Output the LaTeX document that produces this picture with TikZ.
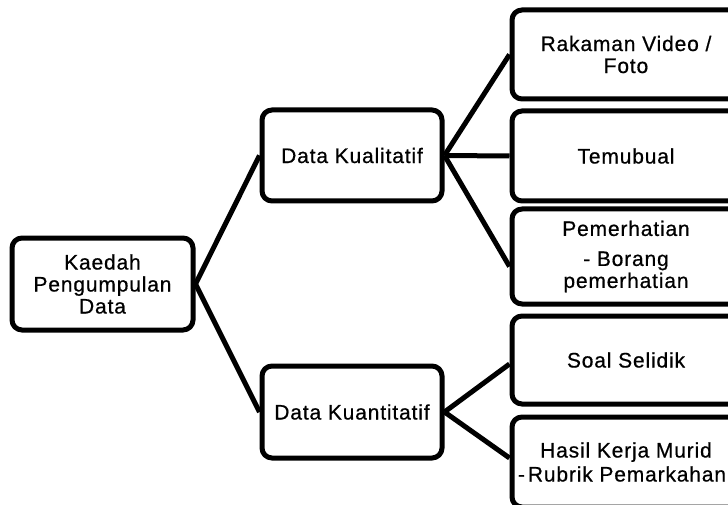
\documentclass[tikz,border=0pt]{standalone}
\usepackage{fontspec}
\setmainfont{Liberation Sans}[LetterSpace=4,FakeBold=0.6]
\begin{document}
\begin{tikzpicture}[x=1pt,y=-1pt,
  box/.style={draw=black, line width=5pt, rounded corners=10pt, fill=white,
    inner sep=0pt, align=center, font=\fontsize{21}{22}\selectfont},
  conn/.style={draw=black, line width=5pt}]
\useasboundingbox (0,0) rectangle (728,505);
\clip (0,0) rectangle (728,505);
\fill[white] (0,0) rectangle (728,505);
% nodes
\node[box, minimum width=181pt, minimum height=92pt] (K) at (102.5,284) {Kaedah\\Pengumpulan\\Data};
\node[box, minimum width=180pt, minimum height=91pt] (QL) at (352,155.5) {Data Kualitatif};
\node[box, minimum width=180pt, minimum height=92pt] (QN) at (352,412) {Data Kuantitatif};
\node[box, minimum width=228pt, minimum height=89pt] (R1) at (626,54.5) {Rakaman Video /\\Foto};
\node[box, minimum width=228pt, minimum height=90pt] (R2) at (626,156) {Temubual};
\node[box, minimum width=228pt, minimum height=95pt] (R3) at (626,256.5) {Pemerhatian\\[8pt]- Borang\\pemerhatian};
\node[box, minimum width=228pt, minimum height=88pt] (R4) at (626,360) {Soal Selidik};
\node[box, minimum width=228pt, minimum height=90pt] (R5) at (626,462) {Hasil Kerja Murid\\[2pt]-\hspace{3pt}Rubrik Pemarkahan\hspace*{8pt}};
% connectors
\draw[conn] (K.east) -- (QL.west);
\draw[conn] (K.east) -- (QN.west);
\draw[conn] (QL.east) -- (R1.west);
\draw[conn] (QL.east) -- (R2.west);
\draw[conn] (QL.east) -- ([yshift=-10pt]R3.west);
\draw[conn] (QN.east) -- ([yshift=-4pt]R4.west);
\draw[conn] (QN.east) -- ([yshift=4pt]R5.west);
\end{tikzpicture}
\end{document}
